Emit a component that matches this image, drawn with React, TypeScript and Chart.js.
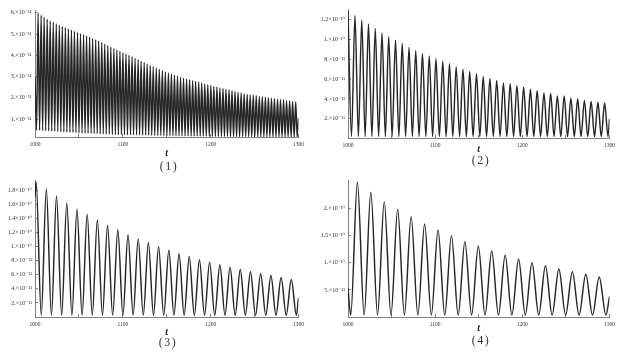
import React, { useEffect, useRef } from 'react';
import { Chart, registerables } from 'chart.js';
Chart.register(...registerables);

// ---------- data (values in units of 1e-11) ----------
const X_MIN = 1000;
const X_MAX = 1300;
const xMajorTicks = [1000, 1100, 1200, 1300];
const xMinorTicks = [1050, 1150, 1250];

// Panel (1)
const p1PeakTimes = [
  1003.5, 1007.0, 1010.4, 1013.9, 1017.3, 1020.8, 1024.2, 1027.7, 1031.1, 1034.6,
  1038.0, 1041.5, 1044.9, 1048.4, 1051.8, 1055.3, 1058.7, 1062.2, 1065.6, 1069.1,
  1072.5, 1076.0, 1079.4, 1082.9, 1086.3, 1089.8, 1093.2, 1096.7, 1100.1, 1103.6,
  1107.0, 1110.5, 1113.9, 1117.4, 1120.8, 1124.3, 1127.7, 1131.2, 1134.6, 1138.1,
  1141.5, 1145.0, 1148.4, 1151.9, 1155.3, 1158.8, 1162.2, 1165.7, 1169.1, 1172.6,
  1176.0, 1179.5, 1182.9, 1186.4, 1189.8, 1193.3, 1196.7, 1200.2, 1203.6, 1207.1,
  1210.5, 1214.0, 1217.4, 1220.9, 1224.3, 1227.8, 1231.2, 1234.7, 1238.1, 1241.6,
  1245.0, 1248.5, 1251.9, 1255.4, 1258.8, 1262.3, 1265.7, 1269.2, 1272.6, 1276.1,
  1279.5, 1283.0, 1286.4, 1289.9, 1293.3, 1296.8,
];
const p1Peaks = [
  5.99, 5.90, 5.80, 5.71, 5.62, 5.56, 5.49, 5.43, 5.37, 5.31,
  5.25, 5.20, 5.14, 5.09, 5.03, 4.98, 4.92, 4.86, 4.80, 4.74,
  4.68, 4.61, 4.54, 4.47, 4.40, 4.33, 4.26, 4.20, 4.13, 4.07,
  4.01, 3.94, 3.87, 3.80, 3.73, 3.67, 3.60, 3.53, 3.47, 3.41,
  3.35, 3.29, 3.23, 3.17, 3.12, 3.07, 3.02, 2.97, 2.93, 2.89,
  2.85, 2.81, 2.77, 2.74, 2.70, 2.66, 2.62, 2.58, 2.54, 2.51,
  2.47, 2.44, 2.41, 2.37, 2.34, 2.30, 2.27, 2.23, 2.20, 2.16,
  2.14, 2.12, 2.10, 2.07, 2.05, 2.03, 2.01, 1.98, 1.96, 1.94,
  1.92, 1.90, 1.87, 1.85, 1.83, 1.81,
];
const p1Troughs = [
  0.47, 0.46, 0.45, 0.44, 0.43, 0.42, 0.41, 0.40, 0.39, 0.38,
  0.37, 0.37, 0.36, 0.35, 0.34, 0.34, 0.33, 0.32, 0.32, 0.31,
  0.30, 0.30, 0.29, 0.29, 0.28, 0.28, 0.27, 0.27, 0.26, 0.26,
  0.26, 0.25, 0.25, 0.25, 0.24, 0.24, 0.24, 0.23, 0.23, 0.23,
  0.23, 0.22, 0.22, 0.22, 0.22, 0.21, 0.21, 0.21, 0.21, 0.21,
  0.20, 0.20, 0.20, 0.20, 0.20, 0.20, 0.19, 0.19, 0.19, 0.19,
  0.19, 0.19, 0.19, 0.18, 0.18, 0.18, 0.18, 0.18, 0.18, 0.18,
  0.18, 0.18, 0.17, 0.17, 0.17, 0.17, 0.17, 0.17, 0.17, 0.17,
  0.17, 0.17, 0.17, 0.17, 0.17,
];
const p1Lead = [[1000, 3.0], [1001.8, 0.48]];
const p1Tail = [[1298.5, 0.17], [1300, 1.06]];
const p1YRange = [0.16, 6.13];
const p1YTicks = [1, 2, 3, 4, 5, 6];
const p1YLabels = ['1.×10⁻¹¹', '2.×10⁻¹¹', '3.×10⁻¹¹', '4.×10⁻¹¹', '5.×10⁻¹¹', '6.×10⁻¹¹'];

// Panel (2)
const p2PeakTimes = [
  1000.0, 1008.0, 1015.8, 1023.5, 1031.3, 1039.0, 1046.7, 1054.5, 1062.2, 1070.0,
  1077.7, 1085.4, 1093.2, 1100.9, 1108.7, 1116.4, 1124.1, 1131.9, 1139.6, 1147.4,
  1155.1, 1162.8, 1170.6, 1178.3, 1186.1, 1193.8, 1201.5, 1209.3, 1217.0, 1224.8,
  1232.5, 1240.2, 1248.0, 1255.7, 1263.5, 1271.2, 1278.9, 1286.7, 1294.4,
];
const p2Peaks = [
  12.9, 12.43, 11.95, 11.57, 11.12, 10.67, 10.29, 9.94, 9.62, 9.23,
  8.89, 8.60, 8.34, 8.06, 7.80, 7.55, 7.26, 7.00, 6.77, 6.55,
  6.27, 6.08, 5.86, 5.60, 5.54, 5.35, 5.22, 4.97, 4.83, 4.61,
  4.55, 4.30, 4.30, 4.07, 4.01, 3.85, 3.75, 3.66, 3.59,
];
const p2Trough = 0.2;
const p2Lead: number[][] = [];
const p2Tail = [[1298.3, 0.2], [1300, 2.0]];
const p2YRange = [0.05, 13.03];
const p2YTicks = [2, 4, 6, 8, 10, 12];
const p2YLabels = ['2.×10⁻¹¹', '4.×10⁻¹¹', '6.×10⁻¹¹', '8.×10⁻¹¹', '1.×10⁻¹⁰', '1.2×10⁻¹⁰'];

// Panel (3)
const p3PeakTimes = [
  1001.3, 1012.9, 1024.5, 1036.2, 1047.8, 1059.4, 1071.0, 1082.6, 1094.3, 1105.9,
  1117.5, 1129.1, 1140.7, 1152.4, 1164.0, 1175.6, 1187.2, 1198.8, 1210.5, 1222.1,
  1233.7, 1245.3, 1256.9, 1268.6, 1280.2, 1291.8,
];
const p3Peaks = [
  19.2, 18.2, 17.2, 16.2, 15.3, 14.6, 13.8, 13.0, 12.4, 11.7,
  11.1, 10.6, 10.0, 9.5, 9.0, 8.6, 8.14, 7.8, 7.43, 7.09,
  6.76, 6.43, 6.14, 5.9, 5.61, 5.33,
];
const p3Trough = 0.25;
const p3Lead = [[1000, 17.0]];
const p3Tail = [[1297.6, 0.25], [1300, 2.7]];
const p3YRange = [0, 19.47];
const p3YTicks = [2, 4, 6, 8, 10, 12, 14, 16, 18];
const p3YLabels = ['2.×10⁻¹¹', '4.×10⁻¹¹', '6.×10⁻¹¹', '8.×10⁻¹¹', '1.×10⁻¹⁰', '1.2×10⁻¹⁰', '1.4×10⁻¹⁰', '1.6×10⁻¹⁰', '1.8×10⁻¹⁰'];

// Panel (4)
const p4PeakTimes = [
  1010.8, 1026.2, 1041.6, 1057.0, 1072.4, 1087.9, 1103.3, 1118.7, 1134.1, 1149.5,
  1164.9, 1180.3, 1195.7, 1211.1, 1226.5, 1241.9, 1257.4, 1272.8, 1288.2,
];
const p4Peaks = [
  24.8, 22.96, 21.23, 19.83, 18.47, 17.13, 16.03, 14.98, 13.88, 13.09,
  12.17, 11.38, 10.7, 10.02, 9.47, 8.86, 8.36, 7.89, 7.39,
];
const p4Trough = 0.4;
const p4Lead = [[1000, 5.3], [1003.1, 0.4]];
const p4Tail = [[1295.9, 0.4], [1300, 3.8]];
const p4YRange = [0.04, 25.2];
const p4YTicks = [5, 10, 15, 20];
const p4YLabels = ['5.×10⁻¹¹', '1.×10⁻¹⁰', '1.5×10⁻¹⁰', '2.×10⁻¹⁰'];

// ---------- helpers ----------
function buildCurve(lead: number[][], times: number[], peaks: number[], troughs: (i: number) => number, tail: number[][]) {
  const pts: { x: number; y: number }[] = lead.map(([x, y]) => ({ x, y }));
  for (let i = 0; i < times.length; i++) {
    if (i > 0) pts.push({ x: (times[i - 1] + times[i]) / 2, y: troughs(i - 1) });
    pts.push({ x: times[i], y: peaks[i] });
  }
  tail.forEach(([x, y]) => pts.push({ x, y }));
  return pts;
}

const FONT = "'Liberation Serif', 'DejaVu Serif', serif";
const AXIS = '#808080';
const TXT = '#333';

type PanelCfg = {
  left: number; top: number; w: number; h: number;
  padTop: number; padRight: number; yWidth: number; xHeight: number; titlePad: number;
  yLabelPad: number;
  yRange: number[]; yTicks: number[]; yLabels: string[];
  points: { x: number; y: number }[];
  caption: string; capX: number; capY: number;
};

const panels: PanelCfg[] = [
  {
    left: 0, top: 0, w: 311, h: 165, padTop: 2, padRight: 9, yWidth: 35, xHeight: 28, titlePad: 5.5, yLabelPad: 6.5,
    yRange: p1YRange, yTicks: p1YTicks, yLabels: p1YLabels,
    points: buildCurve(p1Lead, p1PeakTimes, p1Peaks, (i) => p1Troughs[i], p1Tail),
    caption: '(1)', capX: 169, capY: 166,
  },
  {
    left: 311, top: 0, w: 311, h: 165, padTop: 2, padRight: 8, yWidth: 37, xHeight: 27, titlePad: 10, yLabelPad: 6,
    yRange: p2YRange, yTicks: p2YTicks, yLabels: p2YLabels,
    points: buildCurve(p2Lead, p2PeakTimes, p2Peaks, () => p2Trough, p2Tail),
    caption: '(2)', capX: 481, capY: 160,
  },
  {
    left: 0, top: 170, w: 311, h: 183, padTop: 10, padRight: 10, yWidth: 35, xHeight: 36, titlePad: 14.7, yLabelPad: 6,
    yRange: p3YRange, yTicks: p3YTicks, yLabels: p3YLabels,
    points: buildCurve(p3Lead, p3PeakTimes, p3Peaks, () => p3Trough, p3Tail),
    caption: '(3)', capX: 168, capY: 342,
  },
  {
    left: 311, top: 170, w: 311, h: 183, padTop: 10, padRight: 8, yWidth: 37, xHeight: 36, titlePad: 18.7, yLabelPad: 6,
    yRange: p4YRange, yTicks: p4YTicks, yLabels: p4YLabels,
    points: buildCurve(p4Lead, p4PeakTimes, p4Peaks, () => p4Trough, p4Tail),
    caption: '(4)', capX: 481, capY: 340,
  },
];

function Panel({ cfg }: { cfg: PanelCfg }) {
  const ref = useRef<HTMLCanvasElement>(null);
  useEffect(() => {
    const allX = [...xMajorTicks, ...xMinorTicks].sort((a, b) => a - b);
    const chart = new Chart(ref.current as HTMLCanvasElement, {
      type: 'line',
      data: {
        datasets: [{
          data: cfg.points,
          borderColor: '#262626',
          borderWidth: 1.45,
          pointRadius: 0,
          cubicInterpolationMode: 'monotone',
          fill: false,
        }],
      },
      options: {
        animation: false,
        responsive: false,
        maintainAspectRatio: false,
        devicePixelRatio: 1,
        events: [],
        layout: { padding: { top: cfg.padTop, right: cfg.padRight, left: 0, bottom: 0 } },
        plugins: { legend: { display: false }, tooltip: { enabled: false }, title: { display: false } },
        scales: {
          x: {
            type: 'linear',
            min: X_MIN,
            max: X_MAX,
            afterBuildTicks: (s: any) => { s.ticks = allX.map((v) => ({ value: v })); },
            afterFit: (s: any) => { s.height = cfg.xHeight; },
            ticks: {
              autoSkip: false,
              maxRotation: 0,
              padding: 7,
              color: TXT,
              font: { family: FONT, size: 5.5 },
              callback: (v: any) => (xMajorTicks.includes(Number(v)) ? String(v) : ''),
            },
            grid: { drawOnChartArea: false, drawTicks: true, tickLength: -3, color: AXIS, tickColor: AXIS },
            border: { display: true, color: AXIS, width: 1 },
            title: {
              display: true,
              text: 't',
              color: '#222',
              font: { family: FONT, size: 10, style: 'italic', weight: 'bold' },
              padding: { top: 0, bottom: cfg.titlePad },
            },
          },
          y: {
            type: 'linear',
            min: cfg.yRange[0],
            max: cfg.yRange[1],
            afterBuildTicks: (s: any) => { s.ticks = cfg.yTicks.map((v) => ({ value: v })); },
            afterFit: (s: any) => { s.width = cfg.yWidth; },
            ticks: {
              autoSkip: false,
              padding: cfg.yLabelPad,
              color: TXT,
              font: { family: FONT, size: 6 },
              callback: (v: any) => cfg.yLabels[cfg.yTicks.indexOf(Number(v))] ?? '',
            },
            grid: { drawOnChartArea: false, drawTicks: true, tickLength: -3, color: AXIS, tickColor: AXIS },
            border: { display: true, color: AXIS, width: 1 },
          },
        },
      } as any,
    });
    return () => chart.destroy();
  }, [cfg]);
  return (
    <>
      <canvas
        ref={ref}
        width={cfg.w}
        height={cfg.h}
        style={{ position: 'absolute', left: cfg.left, top: cfg.top, width: cfg.w, height: cfg.h }}
      />
      <div
        style={{
          position: 'absolute', left: cfg.capX - 30, top: cfg.capY - 8, width: 60, height: 16,
          lineHeight: '16px', textAlign: 'center', fontFamily: FONT, fontSize: 12, color: TXT, letterSpacing: 1.5,
        }}
      >
        {cfg.caption}
      </div>
    </>
  );
}

export default function App() {
  return (
    <div style={{ position: 'fixed', left: 0, top: 0, width: 622, height: 353, background: '#fff', overflow: 'hidden' }}>
      {panels.map((p, i) => <Panel key={i} cfg={p} />)}
    </div>
  );
}
